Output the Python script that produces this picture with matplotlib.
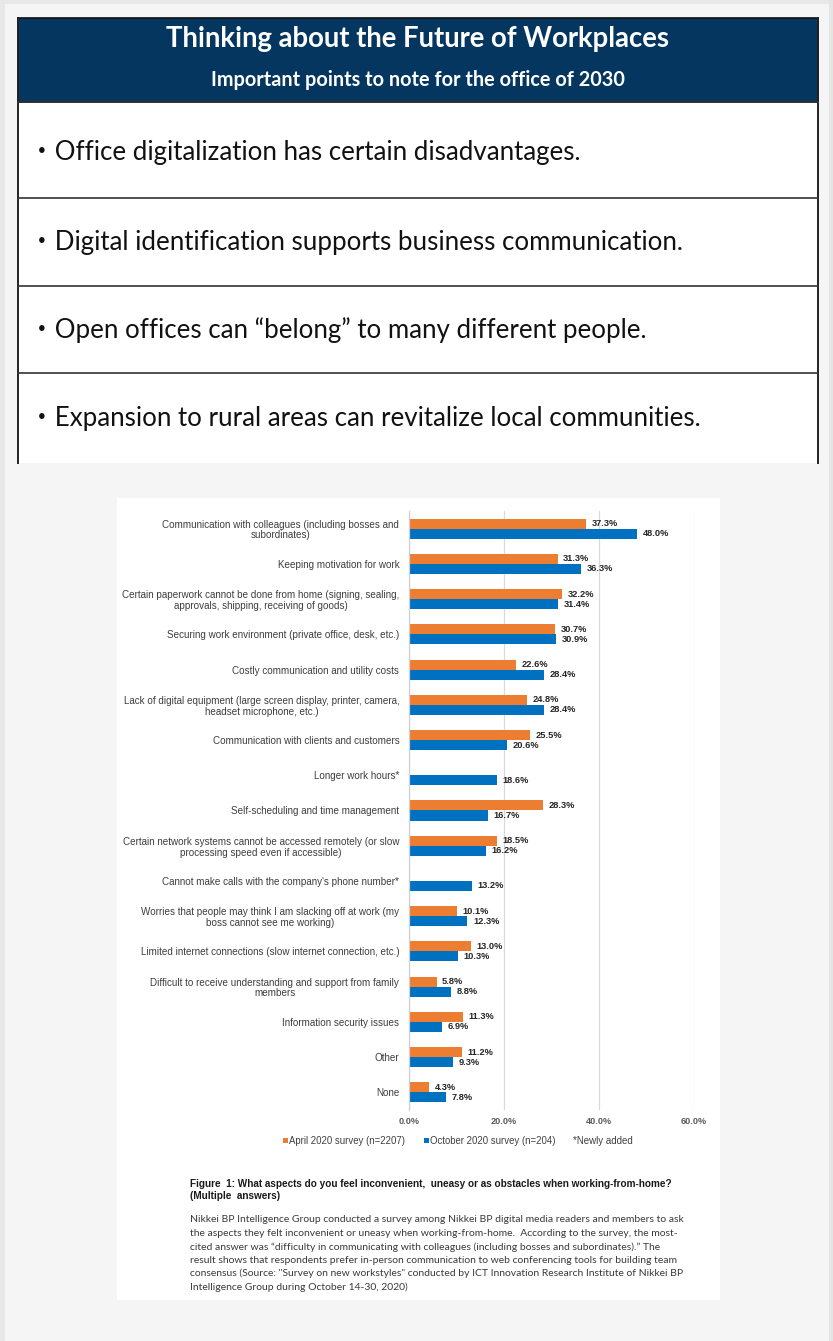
import matplotlib
matplotlib.use('Agg')
import matplotlib.pyplot as plt
from matplotlib.patches import Rectangle
import numpy as np

# ---- data ----
title = "Thinking about the Future of Workplaces"
subtitle = "Important points to note for the office of 2030"
points = [
    "Office digitalization has certain disadvantages.",
    "Digital identification supports business communication.",
    "Open offices can \u201cbelong\u201d to many different people.",
    "Expansion to rural areas can revitalize local communities.",
]

categories = [
    "Communication with colleagues (including bosses and\nsubordinates)",
    "Keeping motivation for work",
    "Certain paperwork cannot be done from home (signing, sealing,\napprovals, shipping, receiving of goods)",
    "Securing work environment (private office, desk, etc.)",
    "Costly communication and utility costs",
    "Lack of digital equipment (large screen display, printer, camera,\nheadset microphone, etc.)",
    "Communication with clients and customers",
    "Longer work hours*",
    "Self-scheduling and time management",
    "Certain network systems cannot be accessed remotely (or slow\nprocessing speed even if accessible)",
    "Cannot make calls with the company's phone number*",
    "Worries that people may think I am slacking off at work (my\nboss cannot see me working)",
    "Limited internet connections (slow internet connection, etc.)",
    "Difficult to receive understanding and support from family\nmembers",
    "Information security issues",
    "Other",
    "None",
]
april = [37.3, 31.3, 32.2, 30.7, 22.6, 24.8, 25.5, None, 28.3, 18.5, None, 10.1, 13.0, 5.8, 11.3, 11.2, 4.3]
october = [48.0, 36.3, 31.4, 30.9, 28.4, 28.4, 20.6, 18.6, 16.7, 16.2, 13.2, 12.3, 10.3, 8.8, 6.9, 9.3, 7.8]
xticks = [0, 20, 40, 60]
series_names = ["April 2020 survey (n=2207)", "October 2020 survey (n=204)"]
note = "*Newly added"

caption_title = ("Figure  1: What aspects do you feel inconvenient,  uneasy or as obstacles when working-from-home?\n"
                 "(Multiple  answers)")
caption_lines = [
    "Nikkei BP Intelligence Group conducted a survey among Nikkei BP digital media readers and members to ask",
    "the aspects they felt inconvenient or uneasy when working-from-home.  According to the survey, the most-",
    "cited answer was \u201cdifficulty in communicating with colleagues (including bosses and subordinates).\u201d The",
    "result shows that respondents prefer in-person communication to web conferencing tools for building team",
    "consensus (Source: \"Survey on new workstyles\" conducted by ICT Innovation Research Institute of Nikkei BP",
    "Intelligence Group during October 14-30, 2020)",
]

W, H = 833, 1341
NAVY = '#04365f'
ORANGE = '#ed7d31'
BLUE = '#0070c0'

fig = plt.figure(figsize=(W / 100, H / 100), dpi=100)
fig.patch.set_facecolor('#f5f5f5')

# background canvas in pixel coordinates
bg = fig.add_axes([0, 0, 1, 1])
bg.set_xlim(0, W)
bg.set_ylim(H, 0)
bg.axis('off')

bg.add_patch(Rectangle((0, 0), W, 4, color='#e8e8e8', lw=0))
bg.add_patch(Rectangle((0, 0), 5, H, color='#e8e8e8', lw=0))
bg.add_patch(Rectangle((829, 0), 4, H, color='#e4e4e4', lw=0))

# table with header
bg.add_patch(Rectangle((18, 18), 800, 445, facecolor='white', lw=0))
bg.add_patch(Rectangle((18, 18), 800, 84, facecolor=NAVY, edgecolor='#111111', lw=1.2))
bg.plot([18, 18], [18, 463], color='#222222', lw=1.4)
bg.plot([818, 818], [18, 463], color='#222222', lw=1.4)
for yl in [102, 198, 286, 373]:
    bg.plot([18, 818], [yl, yl], color='#333333', lw=1.2)

bg.text(418, 39, title, color='white', fontsize=19.8, fontweight='bold',
        family=['Lato', 'DejaVu Sans'], ha='center', va='center')
bg.text(418, 80, subtitle, color='white', fontsize=14.3, fontweight='bold',
        family=['Lato', 'DejaVu Sans'], ha='center', va='center')

row_y = [152, 242, 330, 418]
for yy, p in zip(row_y, points):
    bg.text(29, yy, "\u30fb" + p, color='#111111', fontsize=18.6,
            family=['Lato', 'Noto Sans CJK JP'], ha='left', va='center')

# figure image box
bg.add_patch(Rectangle((117, 498), 603, 802, facecolor='white', lw=0))

# ---- bar chart ----
ax = fig.add_axes([409 / W, 1 - 1110 / H, (694 - 409) / W, (1110 - 511) / H])
ax.set_facecolor('none')
y = np.arange(len(categories))
h = 0.284
a_vals = [v if v is not None else 0 for v in april]
bars_a = ax.barh(y - h / 2, a_vals, height=h, color=ORANGE, label=series_names[0])
bars_o = ax.barh(y + h / 2, october, height=h, color=BLUE, label=series_names[1])

for i, v in enumerate(april):
    if v is None:
        bars_a[i].set_visible(False)
        continue
    ax.annotate(f"{v:.1f}%", xy=(v, i - h / 2), xytext=(4, 0), textcoords='offset points',
                va='center', ha='left', fontsize=6.7, fontweight='bold', color='#262626',
                family='Liberation Sans')
for i, v in enumerate(october):
    ax.annotate(f"{v:.1f}%", xy=(v, i + h / 2), xytext=(4, 0), textcoords='offset points',
                va='center', ha='left', fontsize=6.7, fontweight='bold', color='#262626',
                family='Liberation Sans')

ax.set_xlim(0, 60)
ax.set_ylim(len(categories) - 0.5, -0.5)
ax.set_xticks(xticks)
ax.set_xticklabels([f"{t:.1f}%" for t in xticks], fontsize=6.6, color='#595959',
                   family='Liberation Sans', fontweight='bold')
ax.set_yticks(y)
ax.set_yticklabels(categories, fontsize=7.1, color='#3d3d3d', family='Liberation Sans',
                   multialignment='center', linespacing=1.1)
ax.tick_params(axis='both', length=0)
ax.tick_params(axis='y', pad=7)
ax.tick_params(axis='x', pad=5)
ax.grid(axis='x', color='#d9d9d9', lw=0.9)
ax.set_axisbelow(True)
for s in ['top', 'right', 'bottom']:
    ax.spines[s].set_visible(False)
ax.spines['left'].set_color('#d0d0d0')
ax.spines['left'].set_linewidth(0.9)

leg = fig.legend(handles=[bars_a, bars_o], labels=series_names, ncol=2, frameon=False,
                 loc='center left', bbox_to_anchor=(274 / W, 1 - 1141 / H),
                 handlelength=0.55, handleheight=0.55, handletextpad=0.15,
                 columnspacing=1.9, prop={'family': 'Liberation Sans', 'size': 6.9})
for t in leg.get_texts():
    t.set_color('#404040')
bg.text(573, 1141, note, fontsize=7.0, color='#404040', family='Liberation Sans',
        ha='left', va='center')

# caption
bg.text(190, 1190, caption_title, fontsize=7.2, fontweight='bold', color='#1a1a1a',
        family='Liberation Sans', ha='left', va='center', linespacing=1.2)
for k, line in enumerate(caption_lines):
    bg.text(190, 1220 + k * 13.4, line, fontsize=7.45, color='#3a3a3a', family='Lato',
            ha='left', va='center')

fig.savefig('out.png', dpi=100, facecolor=fig.get_facecolor())
